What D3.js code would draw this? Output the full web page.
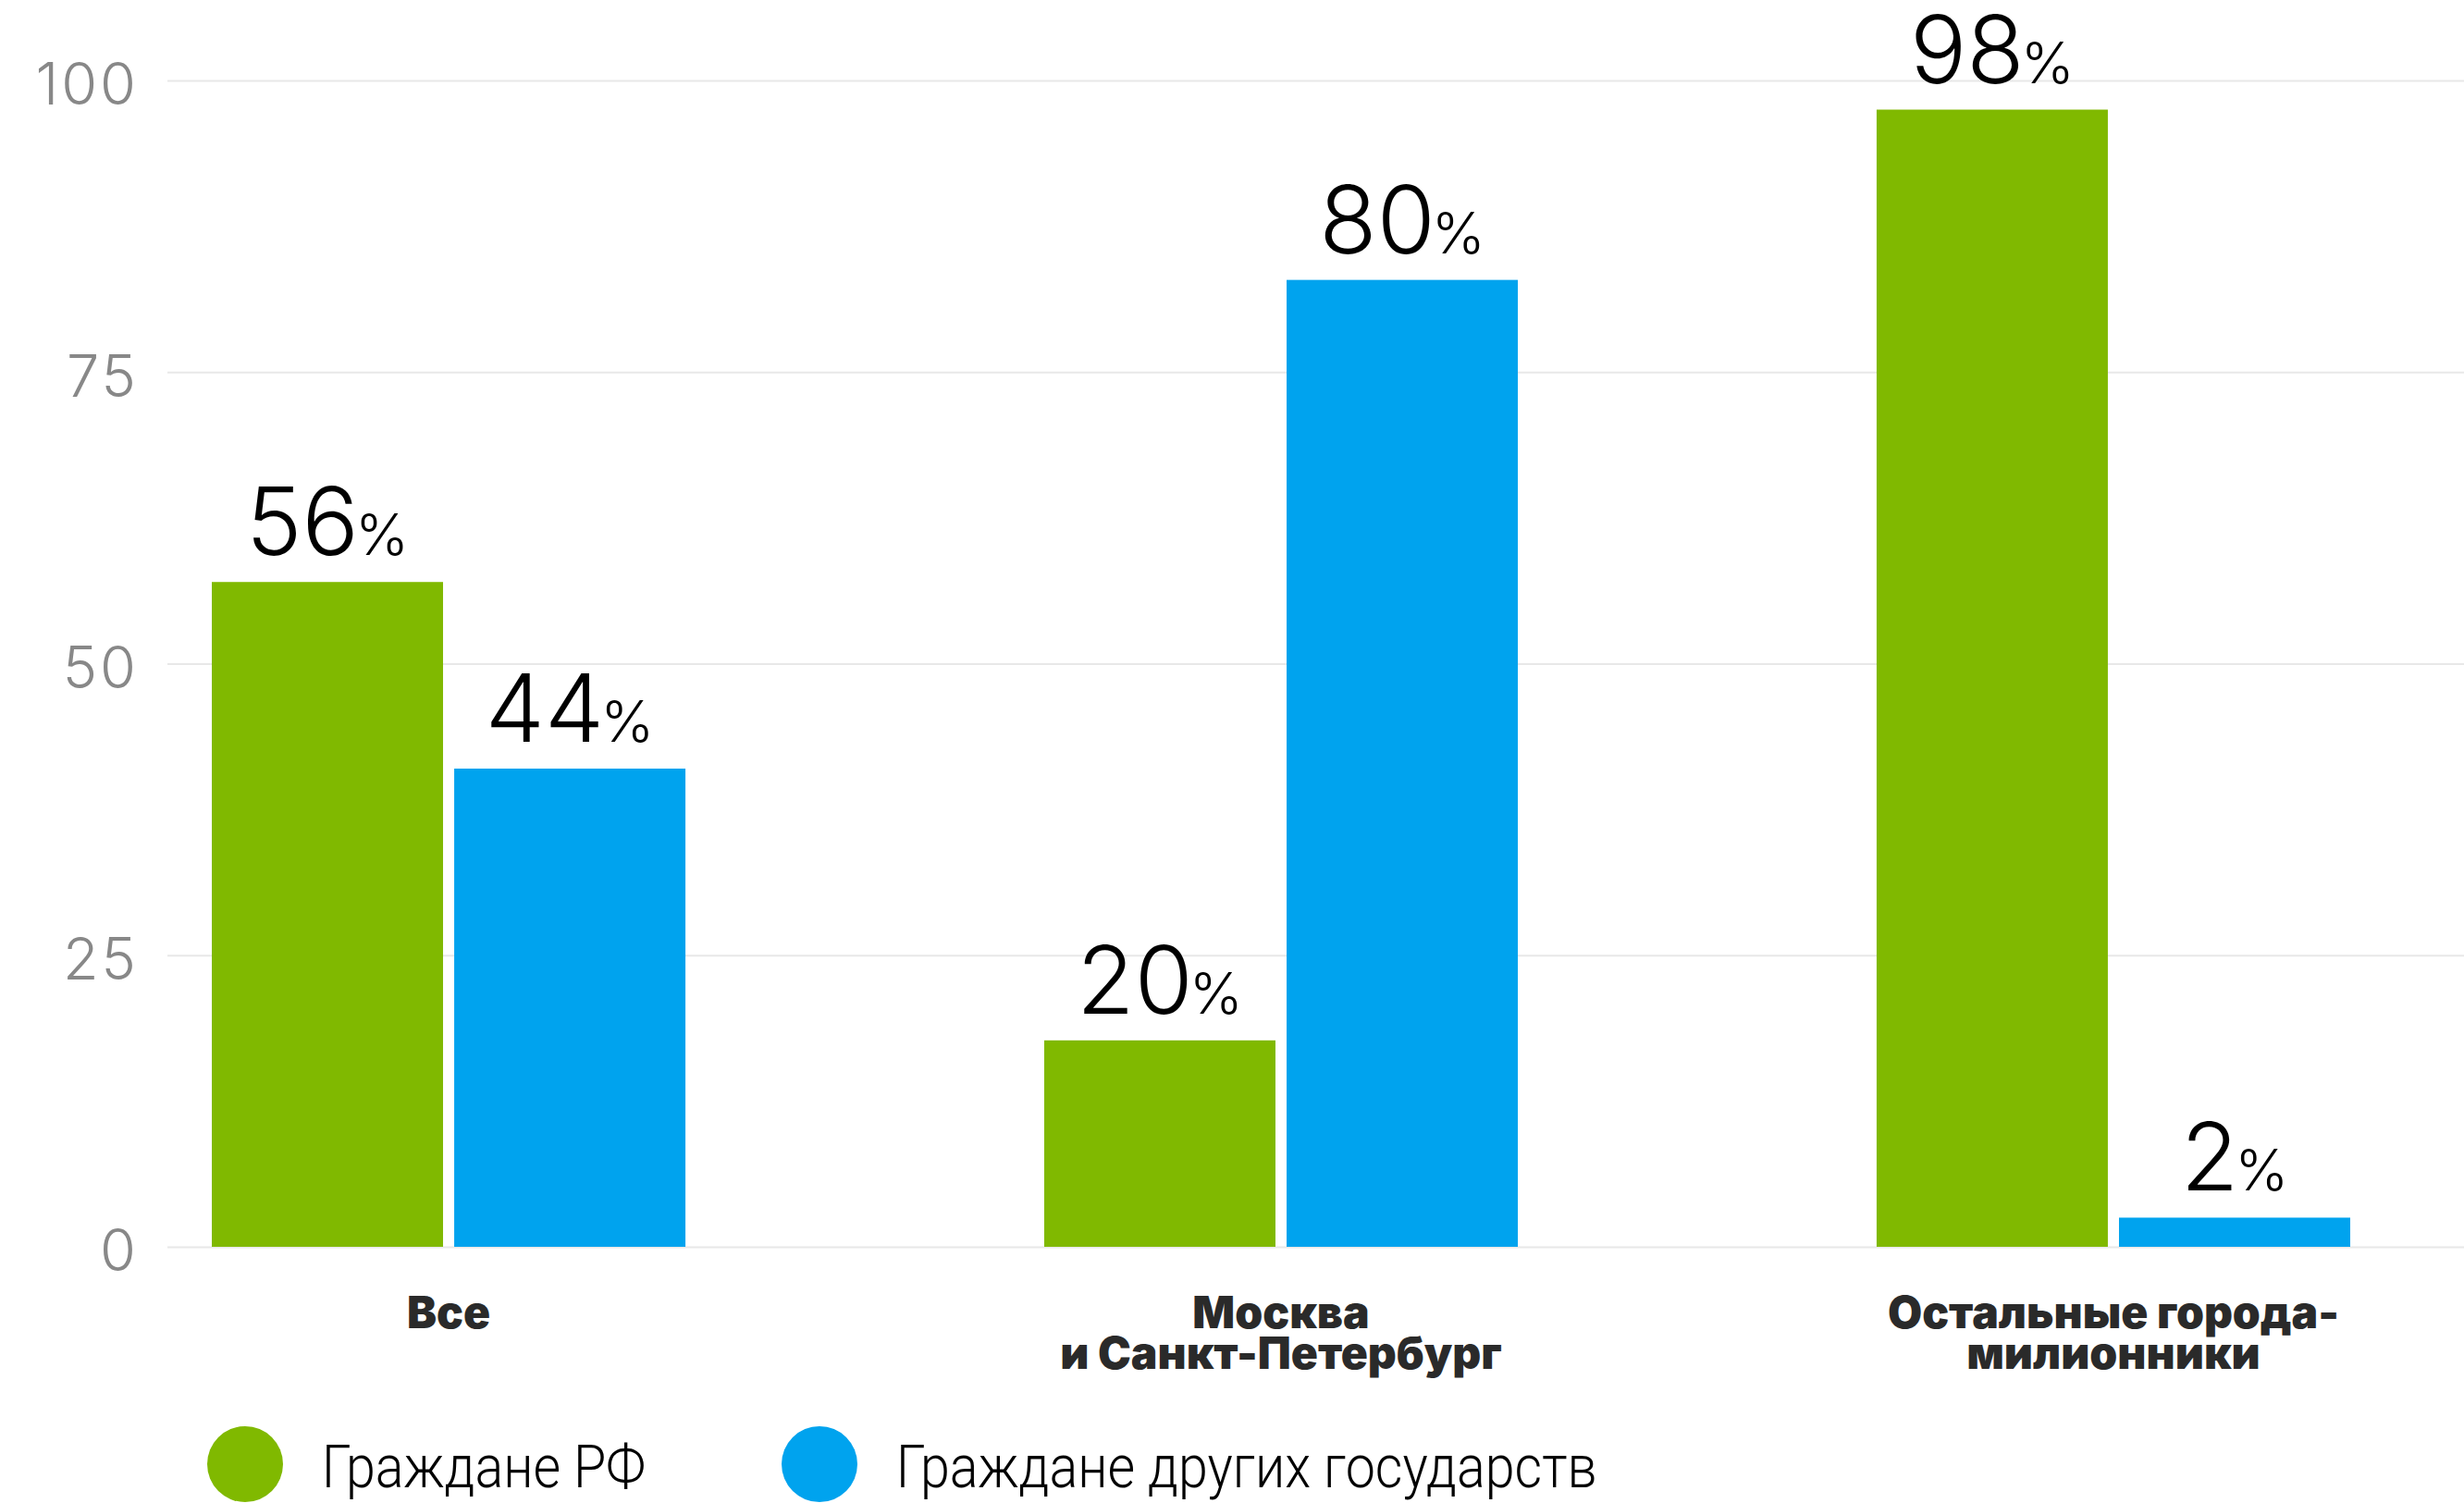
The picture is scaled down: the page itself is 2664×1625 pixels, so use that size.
<!DOCTYPE html>
<html>
<head>
<meta charset="utf-8">
<script src="https://cdn.jsdelivr.net/npm/d3@7"></script>
<style>
  html, body { margin: 0; padding: 0; background: #fff; }
  svg { display: block; }
  .tick-label { font-family: Inter, "Noto Sans", sans-serif; font-weight: 300; fill: #888; letter-spacing: 3px; }
  .value-label { font-family: Inter, "Noto Sans", sans-serif; font-weight: 300; fill: #000; }
  .cat-label { font-family: Inter, "Noto Sans", sans-serif; font-weight: 900; fill: #2a2a2a; }
  .legend-label { font-family: Roboto, Inter, sans-serif; font-weight: 300; fill: #000; }
</style>
</head>
<body>
<div id="chart"></div>
<script>
// ---- data ----
const categories   = ["all", "msk", "other"];
const categoryText = [["Все"], ["Москва", "и Санкт-Петербург"], ["Остальные города-", "милионники"]];
const seriesNames  = ["Граждане РФ", "Граждане других государств"];
const rfValues     = [57, 17.7, 97.5];   // bar heights as drawn
const otherValues  = [41, 82.9, 2.5];
const rfLabels     = ["56", "20", "98"]; // printed labels
const otherLabels  = ["44", "80", "2"];
const yTicks       = [0, 25, 50, 75, 100];

const COLOURS = ["#80b900", "#00a3ee"];

// ---- layout ----
const W = 2664, H = 1625;
const PLOT = { left: 181, right: 2664, top: 87, bottom: 1348 };

const svg = d3.select("#chart").append("svg")
  .attr("width", W).attr("height", H);

const y = d3.scaleLinear().domain([0, 100]).range([PLOT.bottom, PLOT.top]);

const x0 = d3.scaleBand()
  .domain(categories)
  .range([229, 2541])
  .paddingInner(0.431)
  .paddingOuter(0);

const x1 = d3.scaleBand()
  .domain([0, 1])
  .range([0, x0.bandwidth()])
  .paddingInner(0.046)
  .paddingOuter(0);

// gridlines + tick labels
const yAxis = svg.append("g")
  .attr("transform", `translate(${PLOT.left},0)`)
  .call(d3.axisLeft(y).tickValues(yTicks).tickSize(-(PLOT.right - PLOT.left)).tickPadding(31));
yAxis.select(".domain").remove();
yAxis.selectAll("line").attr("stroke", "#e8e8e8").attr("stroke-width", 2);
yAxis.selectAll("text")
  .attr("class", "tick-label")
  .attr("font-size", 63)
  .attr("dy", "0.41em");

// bars
const rows = categories.map((c, i) => ({
  cat: c,
  items: [
    { s: 0, value: rfValues[i], label: rfLabels[i] },
    { s: 1, value: otherValues[i], label: otherLabels[i] }
  ]
}));

const groups = svg.append("g").selectAll("g")
  .data(rows).join("g")
  .attr("transform", d => `translate(${x0(d.cat)},0)`);

groups.selectAll("rect")
  .data(d => d.items).join("rect")
  .attr("x", d => x1(d.s))
  .attr("width", x1.bandwidth())
  .attr("y", d => y(d.value))
  .attr("height", d => y(0) - y(d.value))
  .attr("fill", d => COLOURS[d.s]);

// value labels
const vl = groups.selectAll("text")
  .data(d => d.items).join("text")
  .attr("class", "value-label")
  .attr("text-anchor", "middle")
  .attr("x", d => x1(d.s) + x1.bandwidth() / 2)
  .attr("y", d => y(d.value) - 29);
vl.append("tspan").attr("font-size", 102).text(d => d.label);
vl.append("tspan").attr("font-size", 62).attr("dx", -4).text("%");

// category labels
const cl = svg.append("g").selectAll("text")
  .data(categories).join("text")
  .attr("class", "cat-label")
  .attr("text-anchor", "middle")
  .attr("font-size", 48)
  .attr("x", d => x0(d) + x0.bandwidth() / 2)
  .attr("y", y(0) + 88);
cl.selectAll("tspan")
  .data((d, i) => categoryText[i]).join("tspan")
  .attr("x", function () { return d3.select(this.parentNode).attr("x"); })
  .attr("dy", (d, i) => i === 0 ? 0 : 44)
  .text(d => d);

// legend
const legendX = [265, 886];
const legend = svg.append("g").selectAll("g")
  .data(seriesNames).join("g")
  .attr("transform", (d, i) => `translate(${legendX[i]},1583)`);
legend.append("circle").attr("r", 41).attr("fill", (d, i) => COLOURS[i]);
const lt = legend.append("text")
  .attr("class", "legend-label")
  .attr("font-size", 64)
  .text(d => d);
// the reference face is narrower than anything installed: squeeze it horizontally
const squeeze = 350 / lt.node().getComputedTextLength();
lt.attr("transform", `translate(83,25) scale(${squeeze},1)`);
</script>
</body>
</html>
